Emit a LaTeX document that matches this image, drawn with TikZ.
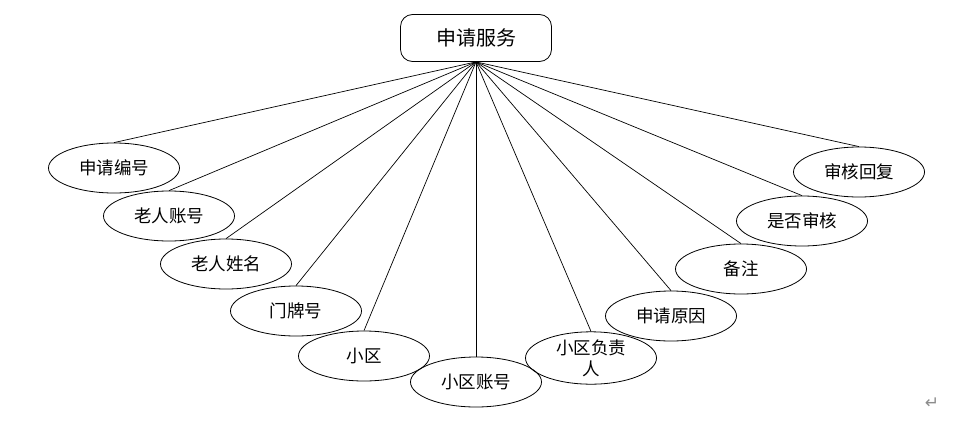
\documentclass[tikz,border=0pt]{standalone}
\usepackage{fontspec}
\setmainfont{Noto Sans CJK SC}
\newfontfamily\symfont{DejaVu Sans}
\usepackage{tikz}
\usetikzlibrary{shapes}
\definecolor{markgray}{HTML}{8C8C8C}

\begin{document}
\begin{tikzpicture}[x=1pt, y=-1pt, every node/.style={font=\fontsize{17.5}{19}\selectfont}, entity/.style={draw, rounded corners=12pt, minimum width=151pt, minimum height=47pt, line width=0.8pt, font=\fontsize{20}{22}\selectfont}, attr/.style={ellipse, draw, minimum width=131pt, minimum height=50pt, inner sep=0pt, line width=0.8pt, align=center}, link/.style={line width=0.7pt}]
  \useasboundingbox (0,0) rectangle (965,423);
  \node[entity] (svc) at (476,38) {申请服务};
  \node[attr] (no) at (114,168) {申请编号};
  \node[attr] (acct) at (169,216) {老人账号};
  \node[attr] (name) at (226,264) {老人姓名};
  \node[attr] (door) at (296,311) {门牌号};
  \node[attr] (area) at (364,356) {小区};
  \node[attr] (areaacct) at (476,382) {小区账号};
  \node[attr, font=\fontsize{17.5}{21}\selectfont] (head) at (591,358) {小区负责\\人};
  \node[attr] (reason) at (671,316) {申请原因};
  \node[attr] (note) at (741,269) {备注};
  \node[attr] (check) at (802,221) {是否审核};
  \node[attr] (reply) at (859,172) {审核回复};
  \node[text=markgray, font=\symfont\fontsize{17}{17}\selectfont] (ret) at (932,403) {↵};

  \draw[link] (svc.south) -- (no.north);
  \draw[link] (svc.south) -- (acct.north);
  \draw[link] (svc.south) -- (name.north);
  \draw[link] (svc.south) -- (door.north);
  \draw[link] (svc.south) -- (area.north);
  \draw[link] (svc.south) -- (areaacct.north);
  \draw[link] (svc.south) -- (head.north);
  \draw[link] (svc.south) -- (reason.north);
  \draw[link] (svc.south) -- (note.north);
  \draw[link] (svc.south) -- (check.north);
  \draw[link] (svc.south) -- (reply.north);
\end{tikzpicture}
\end{document}
